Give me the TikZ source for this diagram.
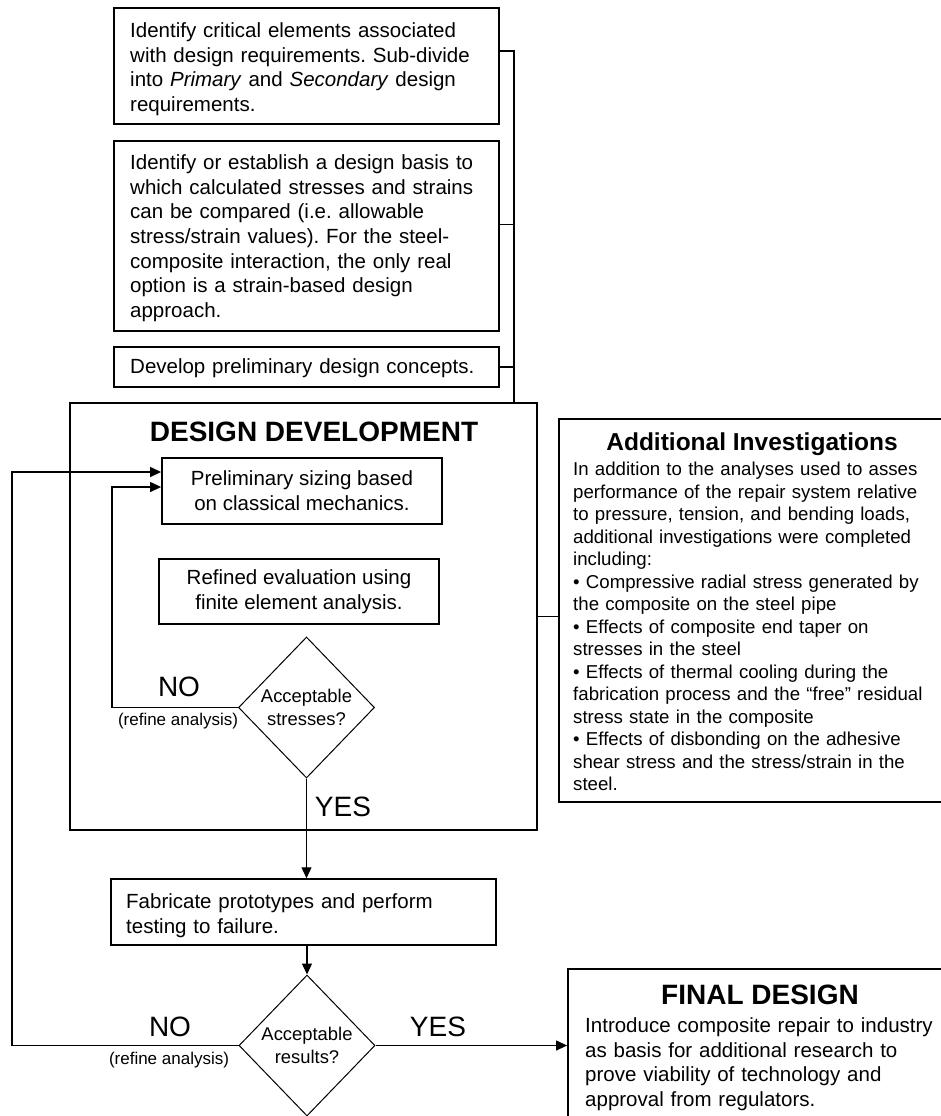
\documentclass[tikz,border=0pt]{standalone}
\usepackage{fontspec}
\setmainfont{Liberation Sans}
\usetikzlibrary{shapes.geometric,arrows.meta,calc}
\frenchspacing
\newcommand\fbody{\fontsize{20.5pt}{24.7pt}\selectfont}
\newcommand\ffab{\fontsize{20.5pt}{25pt}\selectfont}
\newcommand\ffin{\fontsize{20.5pt}{24.5pt}\selectfont}
\newcommand\fai{\fontsize{18.65pt}{22.5pt}\selectfont}
\newcommand\fdia{\fontsize{18.4pt}{22.7pt}\selectfont}
\newcommand\fbig{\fontsize{28pt}{33pt}\selectfont}
\newcommand\fsmall{\fontsize{17pt}{20pt}\selectfont}
\newcommand\ftitle{\fontsize{24.5pt}{29pt}\selectfont\bfseries}
\begin{document}
\frenchspacing
\begin{tikzpicture}[x=1pt,y=-1pt,
  box/.style={draw,line width=1.8pt,rectangle,inner sep=0pt},
  thinbox/.style={draw,line width=1.5pt,rectangle,inner sep=0pt},
  conn/.style={line width=1.2pt},
  arr/.style={line width=1.2pt,-{Triangle[length=11pt,width=10pt]}},
  dia/.style={draw,diamond,line width=1pt,inner sep=0pt,align=center,font=\fdia},
  txt/.style={anchor=north west,inner sep=0pt,align=left},
  lbl/.style={anchor=base,inner sep=0pt},
]
\useasboundingbox (0,0) rectangle (940,1116);

% top boxes
\node[box,minimum width=385pt,minimum height=116pt] (b1) at (306.5,66) {};
\node[box,minimum width=385pt,minimum height=190pt] (b2) at (306.5,236) {};
\node[box,minimum width=385pt,minimum height=40pt] (b3) at (306.5,367) {};
\node[txt,text width=420pt,font=\fbody] (t1) at (130,20.1) {\strut Identify critical elements associated\\with design requirements. Sub-divide\\into \textit{Primary} and \textit{Secondary} design\\requirements.};
\node[txt,text width=420pt,font=\fbody] (t2) at (130,152) {\strut Identify or establish a design basis to\\which calculated stresses and strains\\can be compared (i.e. allowable\\stress/strain values). For the steel-\\composite interaction, the only real\\option is a strain-based design\\approach.};
\node[txt,text width=420pt,font=\fbody] (t3) at (130,356.5) {\strut Develop preliminary design concepts.};

% design development
\node[thinbox,minimum width=467pt,minimum height=427pt] (dd) at (303.5,616.5) {};
\node[lbl,font=\fbig\bfseries] (ddt) at (314,441) {DESIGN DEVELOPMENT};
\node[box,minimum width=280pt,minimum height=66pt,align=center,font=\fontsize{20.5pt}{25pt}\selectfont] (pre) at (302,491) {Preliminary sizing based\\on classical mechanics.};
\node[box,minimum width=280pt,minimum height=65pt,align=center,font=\fontsize{20.5pt}{25pt}\selectfont] (ref) at (299,591.5) {Refined evaluation using\\finite element analysis.};
\node[dia,minimum width=136pt,minimum height=141pt] (d1) at (306.5,707.5) {Acceptable\\stresses?};
\node[lbl,font=\fbig] (no1) at (179,696.7) {NO};
\node[lbl,font=\fsmall] (ra1) at (178,725.5) {(refine analysis)};
\node[lbl,font=\fbig] (yes1) at (343,816) {YES};

% additional investigations
\node[box,minimum width=383pt,minimum height=383pt] (ai) at (750.5,610.5) {};
\node[lbl,font=\ftitle] (ait) at (752,450.7) {Additional Investigations};
\node[txt,text width=400pt,font=\fai] (aitx) at (573,460) {\strut In addition to the analyses used to asses\\performance of the repair system relative\\to pressure, tension, and bending loads,\\additional investigations were completed\\including:\\• Compressive radial stress generated by\\the composite on the steel pipe\\• Effects of composite end taper on\\stresses in the steel\\• Effects of thermal cooling during the\\fabrication process and the “free” residual\\stress state in the composite\\• Effects of disbonding on the adhesive\\shear stress and the stress/strain in the\\steel.};

% fabricate
\node[thinbox,minimum width=385pt,minimum height=66pt] (fab) at (303.5,912) {};
\node[txt,text width=400pt,font=\ffab] (fabt) at (126,890.8) {\strut Fabricate prototypes and perform\\testing to failure.};
\node[dia,minimum width=136pt,minimum height=141pt] (d2) at (307,1045.5) {Acceptable\\results?};
\node[lbl,font=\fbig] (no2) at (170,1036) {NO};
\node[lbl,font=\fsmall] (ra2) at (169,1064) {(refine analysis)};
\node[lbl,font=\fbig] (yes2) at (438,1036) {YES};

% final design
\node[box,minimum width=374pt,minimum height=161pt] (fin) at (755,1049.5) {};
\node[lbl,font=\fbig\bfseries] (fint) at (760,1004.5) {FINAL DESIGN};
\node[txt,text width=400pt,font=\ffin] (fintx) at (585,1015.2) {\strut Introduce composite repair to industry\\as basis for additional research to\\prove viability of technology and\\approval from regulators.};

% connectors
\coordinate (br) at (514,0);
\draw[conn] ([yshift=-44pt]b1.north east) -| (br |- dd.north);
\draw[conn] ([yshift=-84pt]b2.north east) -- ++(15,0);
\draw[conn] (b3.east) -- ++(15,0);
\draw[conn] (dd.east) -- (dd.east -| ai.west);
\coordinate (nl) at (112,487);
\draw[arr] (d1.west) -| (nl) -- ([yshift=4pt]pre.west);
\coordinate (ol) at (12,472);
\draw[arr] (d2.west) -| (ol) -- ([yshift=19pt]pre.west);
\draw[arr] (d1.south) -- (d1.south |- fab.north);
\draw[arr] (fab.south -| d2.north) -- (d2.north);
\draw[arr] (d2.east) -- (d2.east -| fin.west);
\end{tikzpicture}
\end{document}
